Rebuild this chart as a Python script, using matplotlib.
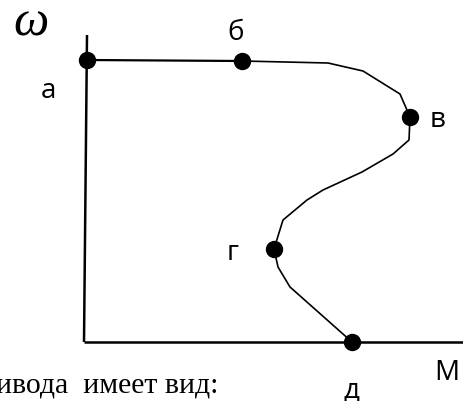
import matplotlib
matplotlib.use("Agg")
import matplotlib.pyplot as plt

# characteristic curve omega(M), in pixel-like units from the origin
M = [3, 158, 244, 279, 316, 326, 325, 309, 278, 239, 223, 199, 190, 194, 206, 268]
w = [282, 281, 279, 271, 248, 225, 202, 188, 170, 152, 142, 122, 93, 75, 55, 0]

# marked points а, б, в, г, д
pt_names = ["а", "б", "в", "г", "д"]
pt_M = [3, 158, 326, 190, 268]
pt_w = [282, 281, 225, 93, 0]

# axes extents
M_axis = [0, 380]
w_axis = [0, 307]
w_axis_x = [0, 3]

fig = plt.figure(figsize=(4.64, 4.01), dpi=100)
ax = fig.add_axes([0, 0, 1, 1])
ax.set_xlim(-84, 380)
ax.set_ylim(-59, 342)
ax.axis("off")

ax.plot(w_axis_x, w_axis, color="black", lw=1.8, solid_capstyle="butt")
ax.plot(M_axis, [0, 0], color="black", lw=1.8, solid_capstyle="butt")
ax.plot([3, 158], [282, 281], color="black", lw=1.6)
ax.plot(M[1:], w[1:], color="black", lw=1.2)
ax.plot(pt_M, pt_w, "o", color="black", ms=11.5, ls="none")

# label offsets in pixels
offs = [(-38.5, -38), (-6, 21), (27.5, -10), (-41, -11), (0, -56)]
for name, x, y, (dx, dy) in zip(pt_names, pt_M, pt_w, offs):
    ax.annotate(name, (x, y), xytext=(dx, dy), textcoords="offset pixels",
                ha="center", va="baseline", fontsize=20, family="Open Sans")

ax.annotate("М", (M_axis[1], 0), xytext=(-17, -38), textcoords="offset pixels",
            ha="center", va="baseline", fontsize=20, family="Open Sans")
ax.annotate("ω", (w_axis_x[1], w_axis[1]), xytext=(-56.5, 0), textcoords="offset pixels",
            ha="center", va="baseline", fontsize=36, family="Liberation Serif",
            style="italic")

# caption fragment under the chart, clipped at the left edge
ax.text(134, -51, "ивода  имеет вид:", ha="right", va="baseline",
        fontsize=21.5, family="Liberation Serif")

fig.savefig("out.png", dpi=100)
